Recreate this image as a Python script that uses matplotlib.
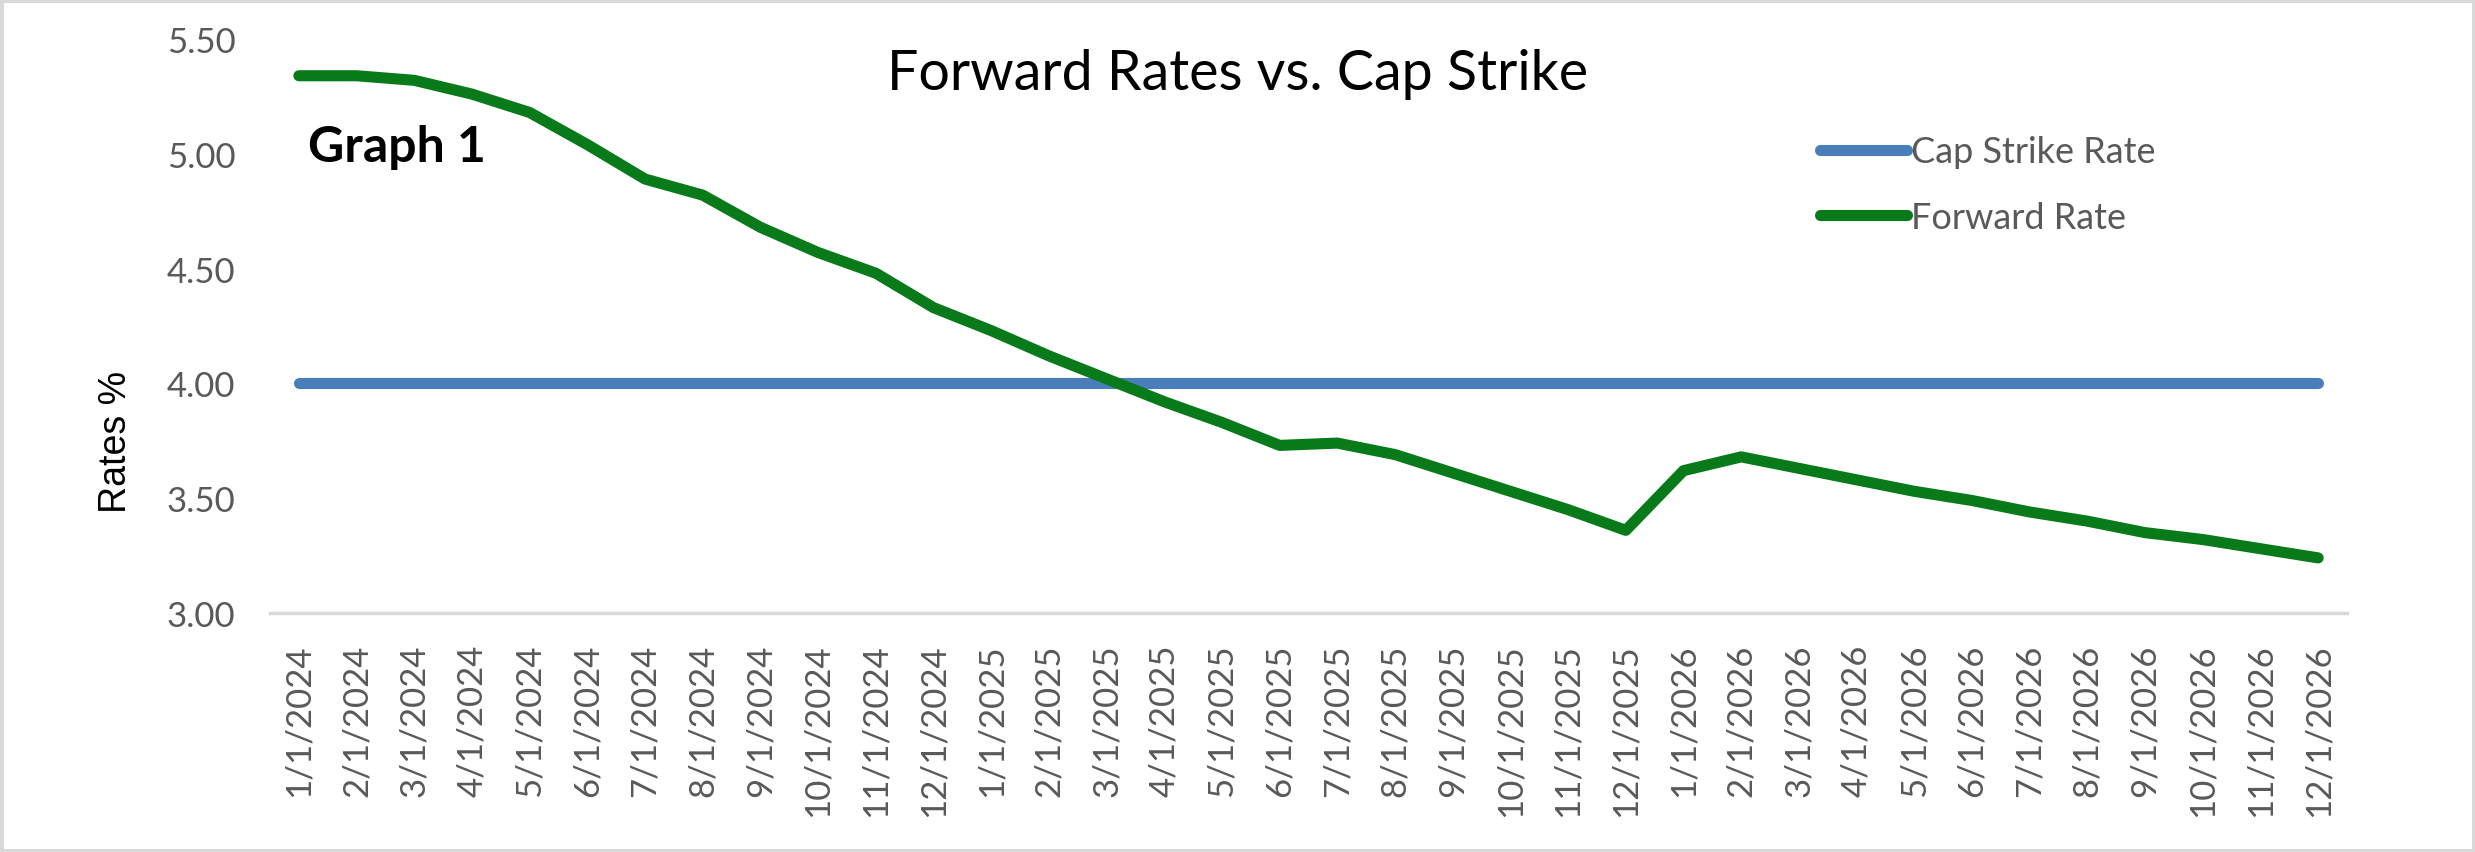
import matplotlib.pyplot as plt
from matplotlib.patches import Rectangle

# monthly dates, jan 2024 - dec 2026
dates = [f"{m}/1/{y}" for y in (2024, 2025, 2026) for m in range(1, 13)]

cap_strike = [4.00] * 36

forward_rate = [
    5.34, 5.34, 5.32, 5.26, 5.18, 5.04, 4.89, 4.82, 4.68, 4.57, 4.48, 4.33,
    4.23, 4.12, 4.02, 3.92, 3.83, 3.73, 3.74, 3.69, 3.61, 3.53, 3.45, 3.36,
    3.62, 3.68, 3.63, 3.58, 3.53, 3.49, 3.44, 3.40, 3.35, 3.32, 3.28, 3.24,
]

yticks = [3.00, 3.50, 4.00, 4.50, 5.00, 5.50]

blue = '#4a7ebb'
green = '#087a1a'
grey_txt = '#595959'

plt.rcParams['font.family'] = ['Lato', 'DejaVu Sans']

fig = plt.figure(figsize=(24.75, 8.53), dpi=100)
ax = fig.add_axes([270 / 2475, 1 - 614 / 853, (2347 - 270) / 2475, (614 - 40) / 853])

x = list(range(len(dates)))
ax.plot(x, cap_strike, color=blue, lw=8, solid_capstyle='round', label='Cap Strike Rate')
ax.plot(x, forward_rate, color=green, lw=8, solid_capstyle='round',
        solid_joinstyle='round', label='Forward Rate')

ax.set_xlim(-0.5, len(dates) - 0.5)
ax.set_ylim(3.0, 5.5)
ax.set_yticks(yticks)
ax.set_yticklabels([f"{v:.2f}" for v in yticks])
ax.set_xticks(x)
ax.set_xticklabels(dates, rotation=90)

ax.tick_params(axis='y', length=0, pad=25, labelsize=25, labelcolor=grey_txt)
ax.tick_params(axis='x', length=0, pad=22, labelsize=25, labelcolor=grey_txt)

for s in ('top', 'right', 'left'):
    ax.spines[s].set_visible(False)
ax.spines['bottom'].set_color('#d9d9d9')
ax.spines['bottom'].set_linewidth(2.5)
ax.spines['bottom'].set_zorder(0)

# y label placed by hand so it sits where the excel one does
fig.text(116 / 2475, 1 - 442 / 853, 'Rates %', rotation=90, ha='center', va='center',
         family='Liberation Sans', fontsize=27, color='black')

fig.text(0.5, 1 - 74 / 853, 'Forward Rates vs. Cap Strike', ha='center', va='center',
         fontsize=40, color='black')
fig.text(308 / 2475, 1 - 162 / 853, 'Graph 1', ha='left', va='baseline',
         fontsize=36, fontweight='bold', color='black')

leg = ax.legend(loc='upper left', bbox_to_anchor=((1806 - 270) / 2077, 1 - (122 - 40) / 574),
                frameon=False, fontsize=26, handlelength=2.4, handletextpad=0.1,
                labelspacing=0.9, borderaxespad=0)
for t in leg.get_texts():
    t.set_color(grey_txt)

fig.patches.append(Rectangle((0, 0), 1, 1, transform=fig.transFigure, fill=False,
                             edgecolor='#d9d9d9', lw=5))

fig.savefig('out.png', dpi=100)
